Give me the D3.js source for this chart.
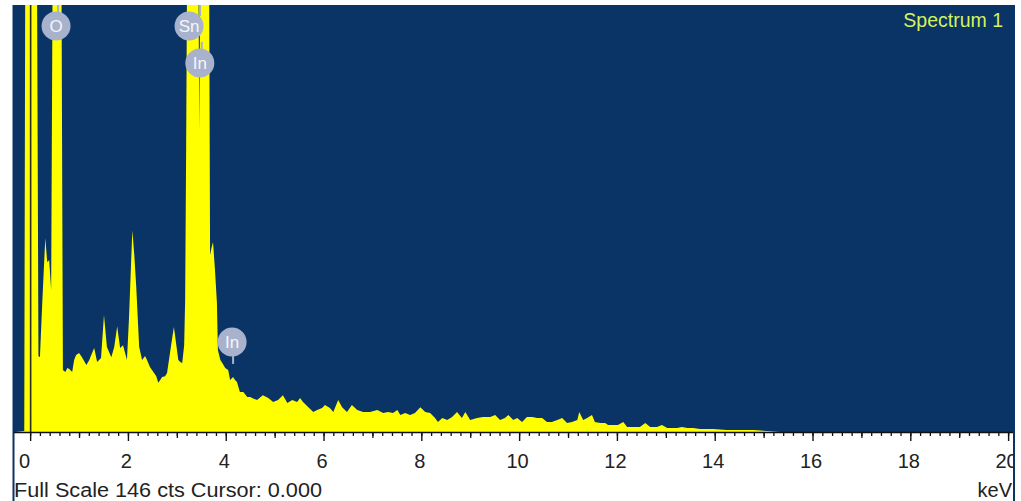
<!DOCTYPE html>
<html><head><meta charset="utf-8">
<script src="https://cdn.jsdelivr.net/npm/d3@7"></script>
<style>html,body{margin:0;padding:0;background:#fff;overflow:hidden}</style>
</head><body><svg id="c" width="1021" height="501"></svg>
<script>
// ---- data ----
const energyKeV = [
  -0.31,-0.12,-0.10,0.14,0.17,0.20,0.25,0.31,0.35,0.39,
  0.43,0.46,0.64,0.67,0.72,0.76,0.80,0.86,0.90,0.94,
  1.00,1.06,1.15,1.21,1.25,1.31,1.37,1.45,1.51,1.57,
  1.66,1.72,1.78,1.84,1.90,1.98,2.02,2.09,2.13,2.17,
  2.23,2.29,2.35,2.39,2.45,2.52,2.58,2.62,2.66,2.70,
  2.76,2.80,2.86,2.90,2.94,2.99,3.03,3.07,3.11,3.15,
  3.17,3.19,3.21,3.44,3.46,3.48,3.66,3.68,3.71,3.74,
  3.78,3.82,3.84,3.89,3.93,3.99,4.05,4.09,4.13,4.15,
  4.19,4.23,4.29,4.36,4.44,4.50,4.54,4.64,4.76,4.87,
  4.97,5.07,5.17,5.26,5.36,5.46,5.52,5.58,5.69,5.79,
  5.87,5.97,6.03,6.13,6.20,6.30,6.38,6.48,6.58,6.69,
  6.81,6.95,7.10,7.22,7.32,7.42,7.51,7.57,7.67,7.77,
  7.87,7.98,8.08,8.18,8.28,8.34,8.43,8.53,8.63,8.73,
  8.83,8.90,9.00,9.14,9.26,9.41,9.51,9.61,9.71,9.78,
  9.88,9.96,10.06,10.16,10.27,10.37,10.47,10.57,10.67,10.78,
  10.88,10.98,11.08,11.19,11.23,11.31,11.39,11.49,11.55,11.66,
  11.76,11.82,11.92,12.02,12.13,12.21,12.33,12.47,12.58,12.68,
  12.82,12.92,13.03,13.23,13.33,13.44,13.56,13.70,13.97,14.25,
  14.52,14.79,15.07,15.34,20.1
];
const countsCts = [
  0,0.3,160,160,26,25.6,45,66.3,58,58.8,
  48.5,160,160,21.2,20.5,21.9,21.5,20.5,24.6,26.3,
  27,25.6,22.9,24.6,26.3,28.7,23.9,25.3,40,29.1,
  25.6,29.1,36.2,28.7,29.7,24.6,38.3,69,60.5,49.6,
  29.1,24.6,26,24.6,22.2,20.5,19.1,16.8,17.8,18.8,
  19.1,20.2,27,31.5,35.9,29.7,24.6,23.9,23.6,29.7,
  45.1,96,160,160,103,160,160,60.5,63,65,
  55.4,44.1,28,24.6,23.6,21.9,21.2,17.8,18.5,18.8,
  17.8,17.1,13.7,13.7,12,12,11.6,10.9,12.6,11.6,
  10.3,10.9,12.6,9.9,10.9,10.3,11.6,10.3,8.5,6.8,
  7.5,8.2,9.2,8.2,6.8,10.9,8.5,6.8,9.2,7.5,
  6.8,6.8,7.5,6.5,6.8,6.5,7.5,5.8,6.5,5.8,
  6.5,8.5,6.8,6.5,4.8,3.4,4.8,4.1,5.1,6.8,
  4.8,6.8,4.1,4.8,5.1,5.1,5.8,4.1,4.8,5.8,
  4.1,4.8,3.4,5.1,5.1,4.8,4.8,3.4,3.4,4.1,
  4.8,3.1,3.4,4.1,6.8,4.1,4.8,5.8,3.4,3.1,
  3.1,2.4,2.4,2.4,3.4,1.7,1.7,1.7,3.1,1.7,
  1.7,2.4,1.4,1.4,1.7,1.4,1.4,1.0,1.0,0.7,
  0.7,0.7,0.3,0,0
];
const tickLabels = [0,2,4,6,8,10,12,14,16,18,20];
const peakNames = ["O","Sn","In","In"];
const peakKeV = [0.53,3.25,3.47,4.13];
const peakCts = [138.8,138.8,126.2,30.8];
const fullScale = 146;
const cursorKeV = 0;
const xDomain = [-0.33, 20.1];

// ---- layout ----
const W=1021,H=501,L=14,R=1013,T=5,B=432;
const FONT='Liberation Sans, Arial, sans-serif';
const x = d3.scaleLinear().domain(xDomain).range([L,R]);
const y = d3.scaleLinear().domain([0,fullScale]).range([B,T]);
const svg = d3.select('#c');
const BLUE='#0a3366', YEL='#ffff00';

const defs = svg.append('defs');
defs.append('clipPath').attr('id','plot').append('rect')
  .attr('x',L).attr('y',T).attr('width',R-L).attr('height',B-T);
defs.append('clipPath').attr('id','frame').append('rect')
  .attr('x',L).attr('y',0).attr('width',R-L).attr('height',H);

svg.append('rect').attr('x',L).attr('y',T).attr('width',R-L).attr('height',B-T).attr('fill',BLUE);
svg.append('line').attr('x1',L-0.5).attr('x2',L-0.5).attr('y1',T).attr('y2',H).attr('stroke',BLUE).attr('stroke-width',2);
svg.append('line').attr('x1',R+1).attr('x2',R+1).attr('y1',T).attr('y2',H).attr('stroke',BLUE).attr('stroke-width',2);

const pts = energyKeV.map((e,i)=>[e,countsCts[i]]);
const area = d3.area().x(d=>x(d[0])).y0(B).y1(d=>y(d[1])).curve(d3.curveLinear);
svg.append('path').datum(pts).attr('d',area).attr('fill',YEL)
  .attr('clip-path','url(#plot)');

// cursor line
svg.append('line').attr('x1',x(cursorKeV)+0.5).attr('x2',x(cursorKeV)+0.5)
  .attr('y1',T).attr('y2',B).attr('stroke','#2b2b1a').attr('stroke-width',1.6);

// axes
const ax = svg.append('g').attr('clip-path','url(#frame)');
ax.append('g').attr('transform',`translate(0,${B})`)
  .call(d3.axisBottom(x).tickValues(d3.range(0,20.01,0.2)).tickSize(4).tickFormat(''))
  .call(g=>{g.select('.domain').remove(); g.selectAll('line').attr('stroke','#111').attr('stroke-width',1.3);});
ax.append('g').attr('transform',`translate(0,${B})`)
  .call(d3.axisBottom(x).tickValues(d3.range(1,20,2)).tickSize(6).tickFormat(''))
  .call(g=>{g.select('.domain').remove(); g.selectAll('line').attr('stroke','#111').attr('stroke-width',1.3);});
ax.append('g').attr('transform',`translate(0,${B})`)
  .call(d3.axisBottom(x).tickValues(tickLabels).tickSize(9).tickFormat(d3.format('d')))
  .call(g=>{
    g.select('.domain').remove();
    g.selectAll('line').attr('stroke','#111').attr('stroke-width',1.4);
    g.selectAll('text').attr('y',36).attr('dy',0).attr('dx',d=>d===0?-6:-2)
      .attr('fill','#222').attr('font-family',FONT).attr('font-size',20);
  });
svg.append('line').attr('x1',L).attr('x2',R).attr('y1',B+0.5).attr('y2',B+0.5).attr('stroke','#111').attr('stroke-width',1.5);

// peak labels
const lab = svg.append('g').selectAll('g').data(peakNames).join('g')
  .attr('transform',(d,i)=>`translate(${x(peakKeV[i])},${y(peakCts[i])})`);
lab.append('line').attr('x1',(d,i)=>i===3?1:(i===1?11:2)).attr('x2',(d,i)=>i===3?1:(i===1?11:2))
  .attr('y1',(d,i)=>i===3?10:-10).attr('y2',(d,i)=>i===3?22:-21)
  .attr('stroke','#a9b2cc').attr('stroke-width',2);
lab.append('circle').attr('r',14.5).attr('fill','#a9b2cc');
lab.append('text').text(d=>d).attr('text-anchor','middle').attr('dy','0.37em')
  .attr('fill','#f4f6fb').attr('font-family',FONT).attr('font-size',17);

// texts
svg.append('text').text('Spectrum 1').attr('x',1003).attr('y',27).attr('text-anchor','end')
  .attr('fill','#d6f25c').attr('font-family',FONT).attr('font-size',19.5);
svg.append('text').text('Full Scale 146 cts Cursor: 0.000').attr('x',14).attr('y',497)
  .attr('fill','#222').attr('font-family',FONT).attr('font-size',20)
  .attr('textLength',308).attr('lengthAdjust','spacingAndGlyphs');
svg.append('text').text('keV').attr('x',1012).attr('y',497).attr('text-anchor','end')
  .attr('fill','#222').attr('font-family',FONT).attr('font-size',20);
</script></body></html>
